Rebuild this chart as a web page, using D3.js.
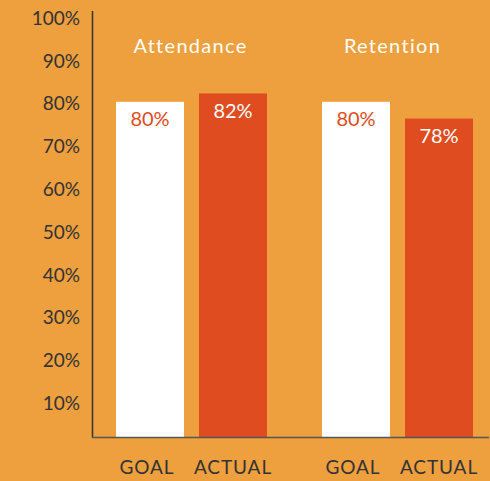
<!DOCTYPE html>
<html><head><meta charset="utf-8">
<script src="https://cdn.jsdelivr.net/npm/d3@7"></script>
<style>
html,body{margin:0;padding:0;background:#EE9F3E;}
svg{display:block;}
text{font-family:Lato,"Noto Sans",sans-serif;}
</style></head>
<body>
<svg id="c" width="490" height="481"></svg>
<script>
const groups = ["Attendance", "Retention"];
const series = ["GOAL", "ACTUAL"];
const goalValues = [80, 80];
const actualValues = [82, 76];
const goalLabels = ["80%", "80%"];
const actualLabels = ["82%", "78%"];
const tickValues = [10, 20, 30, 40, 50, 60, 70, 80, 90, 100];
const tickLabels = ["10%", "20%", "30%", "40%", "50%", "60%", "70%", "80%", "90%", "100%"];

const svg = d3.select("#c");
const bg = "#EE9F3E", red = "#DE4C20", dark = "#333333";
svg.append("rect").attr("width", 490).attr("height", 481).attr("fill", bg);

const y = d3.scaleLinear().domain([0, 100]).range([437, 18]);
const yLab = d3.scaleLinear().domain([10, 100]).range([403, 18]);
const x0 = d3.scaleBand().domain(groups).range([116, 473]).paddingInner(0.267).paddingOuter(0);
const x1 = d3.scaleBand().domain(series).range([0, x0.bandwidth()]).paddingInner(0.181).paddingOuter(0);

const data = [];
groups.forEach((g, i) => {
  data.push({g, s: "GOAL", v: goalValues[i], label: goalLabels[i]});
  data.push({g, s: "ACTUAL", v: actualValues[i], label: actualLabels[i]});
});

// tick labels
svg.append("g").selectAll("text").data(tickValues).join("text")
  .attr("x", 80).attr("y", d => yLab(d)).attr("dy", "0.36em")
  .attr("text-anchor", "end").attr("fill", dark).attr("font-size", 19)
  .text((d, i) => tickLabels[i]);

// bars
svg.append("g").selectAll("rect").data(data).join("rect")
  .attr("x", d => x0(d.g) + x1(d.s))
  .attr("y", d => y(d.v))
  .attr("width", x1.bandwidth())
  .attr("height", d => y(0) - y(d.v))
  .attr("fill", d => d.s === "GOAL" ? "#FFFFFF" : red);

// value labels
svg.append("g").selectAll("text").data(data).join("text")
  .attr("x", d => x0(d.g) + x1(d.s) + x1.bandwidth() / 2)
  .attr("y", d => y(d.v) + 17).attr("dy", "0.36em")
  .attr("text-anchor", "middle").attr("font-size", 20)
  .attr("fill", d => d.s === "GOAL" ? red : "#FFFFFF")
  .text(d => d.label);

// group titles
svg.append("g").selectAll("text").data(groups).join("text")
  .attr("x", d => x0(d) + x0.bandwidth() / 2 - (d === "Retention" ? 5 : 1))
  .attr("y", 46).attr("dy", "0.36em")
  .attr("text-anchor", "middle").attr("font-size", 20)
  .attr("letter-spacing", 1.3).attr("fill", "#FFFFFF")
  .text(d => d);

// category labels
svg.append("g").selectAll("text").data(data).join("text")
  .attr("x", d => x0(d.g) + x1(d.s) + x1.bandwidth() / 2 - (d.s === "GOAL" ? 3 : 0))
  .attr("y", 467).attr("dy", "0.36em")
  .attr("text-anchor", "middle").attr("font-size", 19)
  .attr("letter-spacing", 0.9).attr("fill", dark)
  .text(d => d.s);

// axes lines
svg.append("line").attr("x1", 92.5).attr("x2", 92.5).attr("y1", 11).attr("y2", 437.5)
  .attr("stroke", dark).attr("stroke-width", 1.5);
svg.append("line").attr("x1", 92).attr("x2", 489).attr("y1", 437.5).attr("y2", 437.5)
  .attr("stroke", "#555").attr("stroke-width", 1.5);
</script>
</body></html>
